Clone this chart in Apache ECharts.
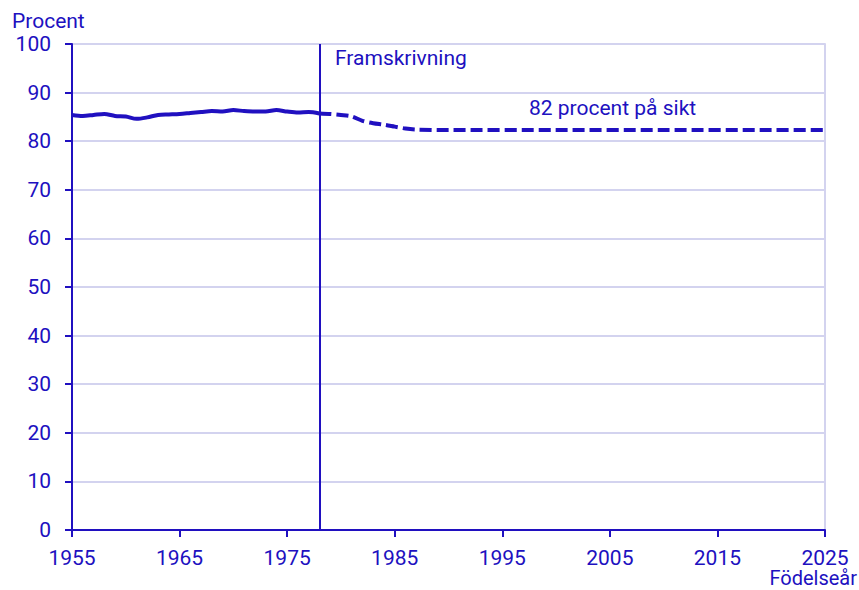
<!DOCTYPE html>
<html>
<head>
<meta charset="utf-8">
<script src="https://cdn.jsdelivr.net/npm/echarts@6/dist/echarts.min.js"></script>
<style>
  html, body { margin: 0; padding: 0; background: #fff; }
  #chart { width: 859px; height: 590px; }
</style>
</head>
<body>
<div id="chart"></div>
<script>
// Observed share (solid) and projection (dashed), percent by birth year
const observedYears = [1955, 1956, 1957, 1958, 1959, 1960, 1961, 1962, 1963, 1964, 1965, 1966,
  1967, 1968, 1969, 1970, 1971, 1972, 1973, 1974, 1975, 1976, 1977, 1978];
const observedValues = [85.4, 85.2, 85.4, 85.6, 85.2, 85.1, 84.6, 84.9, 85.4, 85.5, 85.6, 85.8,
  86.0, 86.2, 86.1, 86.4, 86.2, 86.1, 86.1, 86.4, 86.1, 85.9, 86.0, 85.7];

const projYears = [1978, 1979, 1980, 1981, 1982, 1983, 1984, 1985, 1986, 1987, 1990, 2000, 2010, 2020, 2025];
const projValues = [85.7, 85.6, 85.4, 85.1, 84.2, 83.7, 83.4, 83.0, 82.6, 82.4, 82.3, 82.3, 82.3, 82.3, 82.3];

const projectionStart = 1978;

const blue = '#2010c0';
const gridCol = '#d3d3ef';
const font = 'Roboto';
const fs = 21;

const chart = echarts.init(document.getElementById('chart'), null, { renderer: 'svg' });

const zip = (xs, ys) => xs.map((x, i) => [x, ys[i]]);

chart.setOption({
  animation: false,
  textStyle: { fontFamily: font },
  grid: { left: 72, right: 34, top: 44, bottom: 60 },
  xAxis: {
    type: 'value',
    min: 1955,
    max: 2025,
    interval: 10,
    axisLine: { lineStyle: { color: blue, width: 2 } },
    axisTick: { show: true, length: 7, lineStyle: { color: blue, width: 2 } },
    axisLabel: { color: blue, fontSize: fs, lineHeight: 17, margin: 19, fontFamily: font, formatter: v => String(v) },
    splitLine: { show: false }
  },
  yAxis: [{
    type: 'value',
    min: 0,
    max: 100,
    interval: 10,
    axisLine: { show: true, lineStyle: { color: blue, width: 2 } },
    axisTick: { show: true, length: 7, lineStyle: { color: blue, width: 2 } },
    axisLabel: { color: blue, fontSize: fs, margin: 21, fontFamily: font },
    splitLine: { lineStyle: { color: gridCol, width: 2 } }
  }, {
    type: 'value',
    position: 'right',
    min: 0,
    max: 100,
    interval: 10,
    axisLine: { show: true, lineStyle: { color: gridCol, width: 2 } },
    axisTick: { show: false },
    axisLabel: { show: false },
    splitLine: { show: false }
  }],
  series: [{
    name: 'Utfall',
    type: 'line',
    data: zip(observedYears, observedValues),
    showSymbol: false,
    smooth: 0.3,
    lineStyle: { color: blue, width: 4 },
    markLine: {
      silent: true,
      symbol: 'none',
      label: { show: false },
      lineStyle: { color: blue, width: 2, type: 'solid' },
      data: [{ xAxis: projectionStart }]
    }
  }, {
    name: 'Framskrivning',
    type: 'line',
    data: zip(projYears, projValues),
    showSymbol: false,
    smooth: 0.3,
    lineStyle: { color: blue, width: 4, type: [12, 5] }
  }],
  graphic: [
    { type: 'text', left: 12, top: 10, style: { text: 'Procent', fill: blue, font: fs + 'px Roboto' } },
    { type: 'text', right: 2, top: 568, style: { text: 'Födelseår', fill: blue, font: '20px Roboto' } },
    { type: 'text', left: 335, top: 47, style: { text: 'Framskrivning', fill: blue, font: fs + 'px Roboto' } },
    { type: 'text', left: 529, top: 97, style: { text: '82 procent på sikt', fill: blue, font: fs + 'px Roboto' } }
  ]
});
</script>
</body>
</html>
